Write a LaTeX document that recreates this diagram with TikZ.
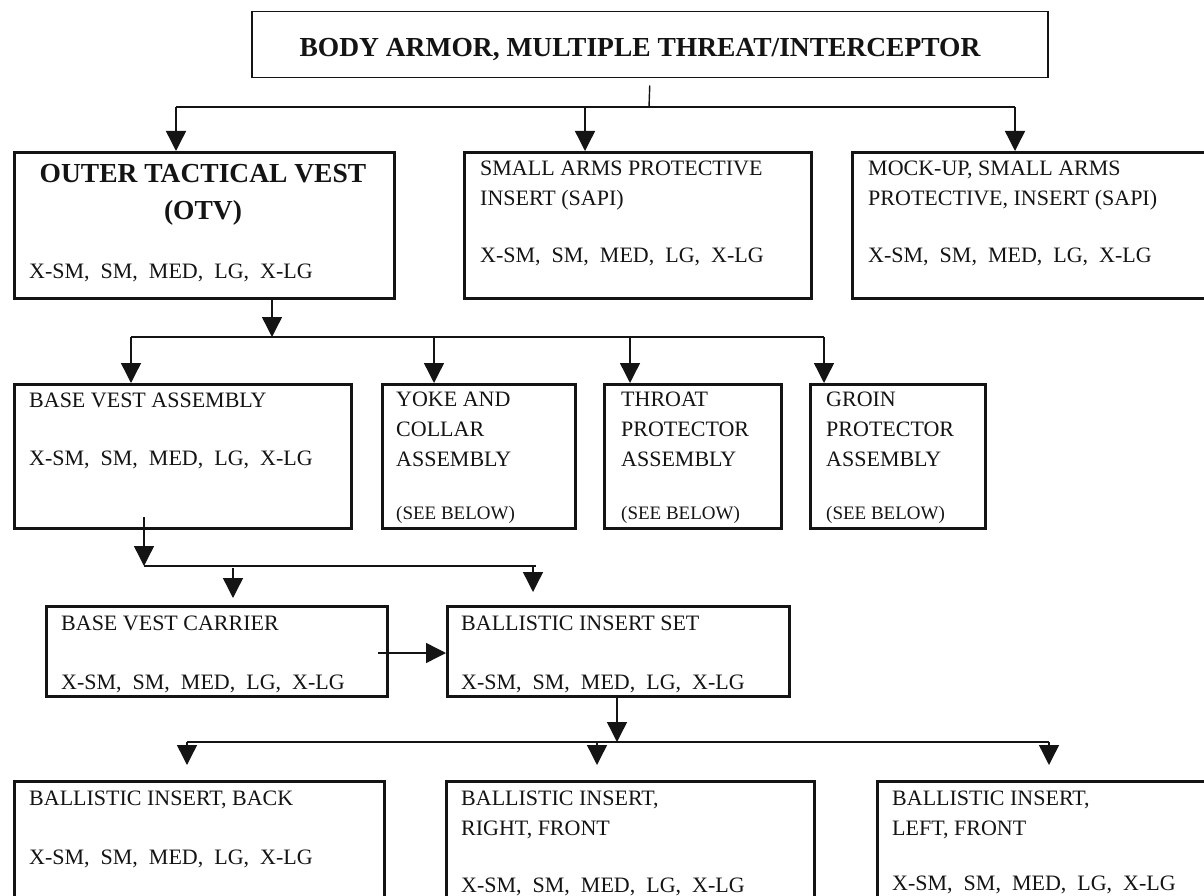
\documentclass[tikz,border=0pt]{standalone}
\usepackage{fontspec}
\setmainfont{Liberation Serif}
\usepackage{tikz}
\usetikzlibrary{arrows.meta,positioning}
\definecolor{chartink}{RGB}{20,20,20}
\tikzstyle{wire} = [line width=1.4pt, color=chartink]
\tikzstyle{feed} = [wire, -{Triangle[width=20pt,length=20pt]}]
\tikzstyle{itembox} = [rectangle, draw=chartink, line width=3pt, anchor=north west, inner sep=0pt]
\tikzstyle{headbox} = [itembox, line width=1.5pt]
\tikzstyle{boldtxt} = [font=\fontsize{27.5}{37}\selectfont\bfseries, inner sep=0pt, align=center, anchor=base, color=chartink]
\tikzstyle{itemtxt} = [font=\fontsize{22}{30}\selectfont, inner sep=0pt, align=left, anchor=base west, color=chartink]
\tikzstyle{seetxt} = [itemtxt, font=\fontsize{19}{24}\selectfont]
\newcommand{\sizes}{X-SM,~ SM,~ MED,~ LG,~ X-LG}

\begin{document}
\begin{tikzpicture}[x=1pt, y=-1pt]
\clip (0,0) rectangle (1204,896);
\fill[white] (0,0) rectangle (1204,896);

% Top item
\node (top) [headbox, minimum width=796pt, minimum height=66pt] at (251,11) {};
\node (top-name) [boldtxt] at (640,57) {BODY ARMOR, MULTIPLE THREAT/INTERCEPTOR};

% First level (multi-line texts sit on their last line)
\node (otv) [itembox, minimum width=380pt, minimum height=146pt] at (13,151) {};
\node (otv-name) [boldtxt] at (203,219) {OUTER TACTICAL VEST\\(OTV)};
\node (otv-sizes) [itemtxt] at (29,278) {\sizes};
\node (sapi) [itembox, minimum width=347pt, minimum height=146pt] at (463,151) {};
\node (sapi-name) [itemtxt] at (480,205) {SMALL ARMS PROTECTIVE\\INSERT (SAPI)};
\node (sapi-sizes) [itemtxt] at (480,262) {\sizes};
\node (mock) [itembox, minimum width=370pt, minimum height=146pt] at (851,151) {};
\node (mock-name) [itemtxt] at (868,205) {MOCK-UP, SMALL ARMS\\PROTECTIVE, INSERT (SAPI)};
\node (mock-sizes) [itemtxt] at (868,262) {\sizes};

% Parts of the vest
\node (bva) [itembox, minimum width=337pt, minimum height=144pt] at (13,383) {};
\node (bva-name) [itemtxt] at (29,407) {BASE VEST ASSEMBLY};
\node (bva-sizes) [itemtxt] at (29,465) {\sizes};
\node (yoke) [itembox, minimum width=193pt, minimum height=144pt] at (381,383) {};
\node (yoke-name) [itemtxt] at (396,466) {YOKE AND\\COLLAR\\ASSEMBLY};
\node (yoke-see) [seetxt] at (396,519) {(SEE BELOW)};
\node (throat) [itembox, minimum width=177pt, minimum height=144pt] at (603,383) {};
\node (throat-name) [itemtxt] at (621,466) {THROAT\\PROTECTOR\\ASSEMBLY};
\node (throat-see) [seetxt] at (621,519) {(SEE BELOW)};
\node (groin) [itembox, minimum width=175pt, minimum height=144pt] at (809,383) {};
\node (groin-name) [itemtxt] at (826,466) {GROIN\\PROTECTOR\\ASSEMBLY};
\node (groin-see) [seetxt] at (826,519) {(SEE BELOW)};

% Base vest parts
\node (bvc) [itembox, minimum width=341pt, minimum height=90pt] at (45,605) {};
\node (bvc-name) [itemtxt] at (61,630) {BASE VEST CARRIER};
\node (bvc-sizes) [itemtxt] at (61,689) {\sizes};
\node (bis) [itembox, minimum width=342pt, minimum height=90pt] at (446,605) {};
\node (bis-name) [itemtxt] at (461,630) {BALLISTIC INSERT SET};
\node (bis-sizes) [itemtxt] at (461,689) {\sizes};

% Inserts
\node (bib) [itembox, minimum width=370pt, minimum height=140pt] at (13,780) {};
\node (bib-name) [itemtxt] at (29,805) {BALLISTIC INSERT, BACK};
\node (bib-sizes) [itemtxt] at (29,864) {\sizes};
\node (birf) [itembox, minimum width=368pt, minimum height=140pt] at (445,780) {};
\node (birf-name) [itemtxt] at (461,835) {BALLISTIC INSERT,\\RIGHT, FRONT};
\node (birf-sizes) [itemtxt] at (461,892) {\sizes};
\node (bilf) [itembox, minimum width=345pt, minimum height=140pt] at (876,780) {};
\node (bilf-name) [itemtxt] at (892,835) {BALLISTIC INSERT,\\LEFT, FRONT};
\node (bilf-sizes) [itemtxt] at (892,890) {\sizes};

% Connections, level 1
\coordinate (hub1) at (649,107);
\coordinate (to-otv) at (176,107);
\coordinate (to-sapi) at (585,107);
\coordinate (to-mock) at (1015,107);
\draw[wire] ([yshift=-7pt]top.south) -- (hub1);
\draw[wire] (to-otv) -- (to-mock);
\draw[feed] (to-otv) -- (to-otv |- otv.north);
\draw[feed] (to-sapi) -- (to-sapi |- sapi.north);
\draw[feed] (to-mock) -- (to-mock |- mock.north);

% Connections, level 2
\coordinate (hub2) at (272,337);
\coordinate (to-bva) at (131,337);
\coordinate (to-yoke) at (434,337);
\coordinate (to-throat) at (630,337);
\coordinate (to-groin) at (824,337);
\draw[feed] (hub2 |- otv.south) -- (hub2);
\draw[wire] (to-bva) -- (to-groin);
\draw[feed] (to-bva) -- (to-bva |- bva.north);
\draw[feed] (to-yoke) -- (to-yoke |- yoke.north);
\draw[feed] (to-throat) -- (to-throat |- throat.north);
\draw[feed] (to-groin) -- (to-groin |- groin.north);

% Connections, level 3
\coordinate (hub3-top) at (144,517);
\coordinate (hub3) at (144,566);
\coordinate (bus3-end) at (536,566);
\coordinate (to-bvc) at (233,568);
\coordinate (tip-bvc) at (233,598);
\coordinate (to-bis) at (533,566);
\coordinate (tip-bis) at (533,592);
\coordinate (from-bvc) at (378,653);
\draw[feed] (hub3-top) -- (hub3);
\draw[wire] (hub3) -- (bus3-end);
\draw[feed] (to-bvc) -- (tip-bvc);
\draw[feed] (to-bis) -- (tip-bis);
\draw[feed] (from-bvc) -- (from-bvc -| bis.west);

% Connections, level 4
\coordinate (hub4) at (617,742);
\coordinate (to-bib) at (187,742);
\coordinate (to-birf) at (597,742);
\coordinate (to-bilf) at (1049,742);
\coordinate (tip-bib) at (187,765);
\coordinate (tip-birf) at (597,765);
\coordinate (tip-bilf) at (1049,765);
\draw[feed] (hub4 |- bis.south) -- (hub4);
\draw[wire] (to-bib) -- (to-bilf);
\draw[feed] (to-bib) -- (tip-bib);
\draw[feed] (to-birf) -- (tip-birf);
\draw[feed] (to-bilf) -- (tip-bilf);
\end{tikzpicture}
\end{document}
